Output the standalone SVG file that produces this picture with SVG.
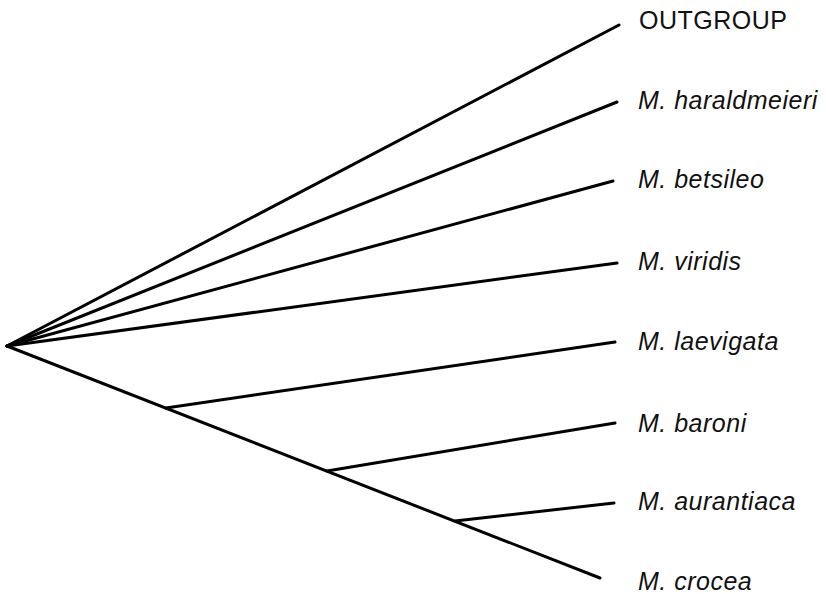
<svg xmlns="http://www.w3.org/2000/svg" width="826" height="594" viewBox="0 0 826 594">
<style>
.br{stroke:#000;stroke-width:3;stroke-linecap:round;fill:none}
.lb{font-family:"Liberation Sans",Arial,Helvetica,sans-serif;font-size:25px;letter-spacing:0.5px;fill:#111}
.sp{font-style:italic}
</style>
<rect width="826" height="594" fill="#fff"/>
<g id="connectors">
<line class="br" x1="7" y1="346" x2="619" y2="25"/>
<line class="br" x1="7" y1="346" x2="617" y2="102"/>
<line class="br" x1="7" y1="346" x2="613" y2="181"/>
<line class="br" x1="7" y1="346" x2="617" y2="263"/>
<line class="br" x1="7" y1="346" x2="600" y2="578"/>
<line class="br" x1="166" y1="408" x2="615" y2="342"/>
<line class="br" x1="327" y1="471" x2="615" y2="423"/>
<line class="br" x1="455" y1="521" x2="614" y2="503"/>
</g>
<g id="n-outgroup"><text class="lb" x="639" y="29">OUTGROUP</text></g>
<g id="n-haraldmeieri"><text class="lb sp" x="638" y="109">M. haraldmeieri</text></g>
<g id="n-betsileo"><text class="lb sp" x="638" y="188">M. betsileo</text></g>
<g id="n-viridis"><text class="lb sp" x="638" y="270">M. viridis</text></g>
<g id="n-laevigata"><text class="lb sp" x="638" y="350">M. laevigata</text></g>
<g id="n-baroni"><text class="lb sp" x="638" y="432">M. baroni</text></g>
<g id="n-aurantiaca"><text class="lb sp" x="638" y="510">M. aurantiaca</text></g>
<g id="n-crocea"><text class="lb sp" x="638" y="590">M. crocea</text></g>
</svg>
